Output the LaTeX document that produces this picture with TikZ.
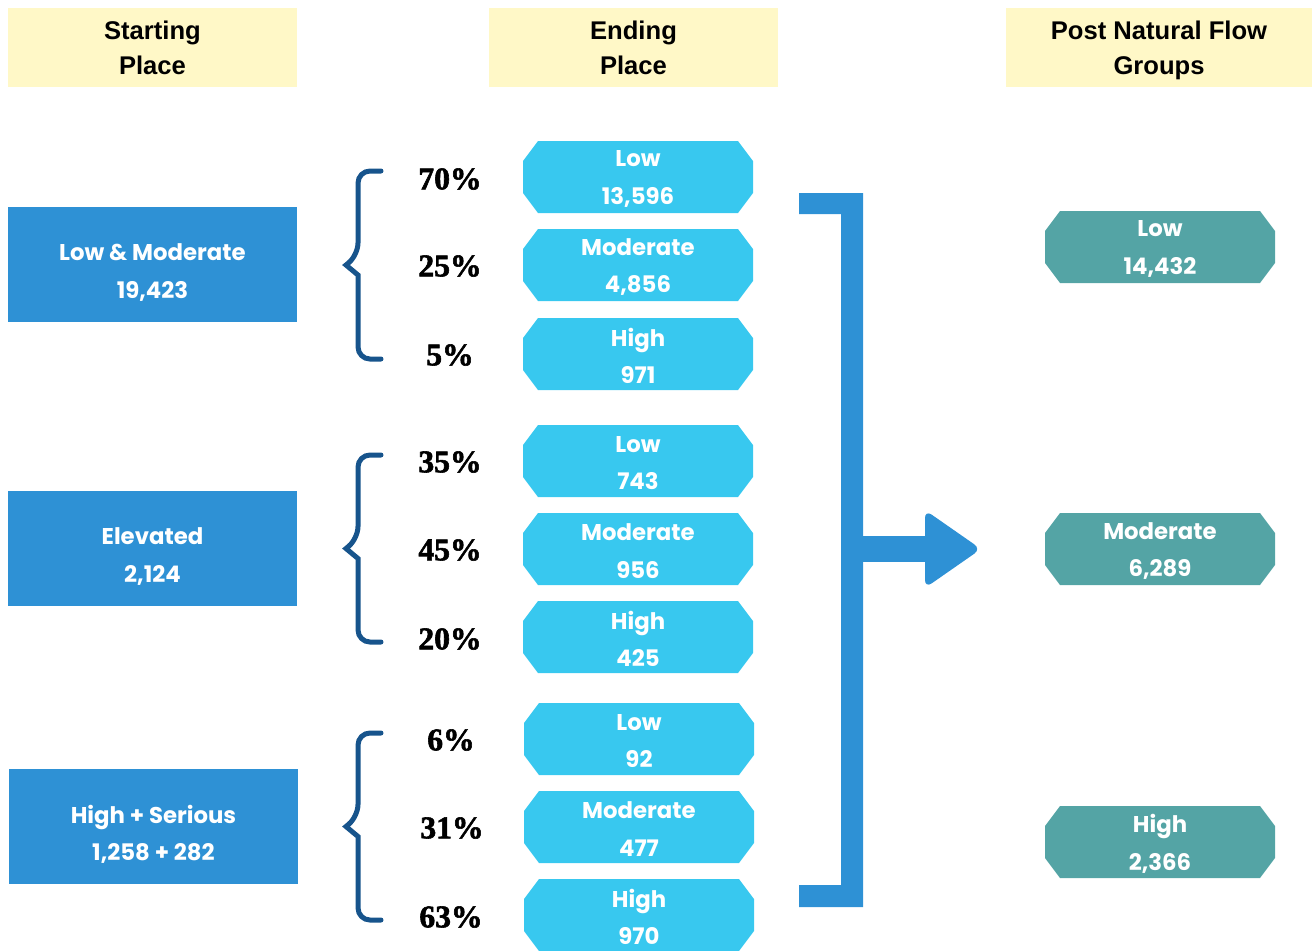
\documentclass[tikz,border=0pt]{standalone}
\usepackage{fontspec}
\setmainfont{Liberation Sans}
\newfontfamily\boxfont{Poppins}
\newfontfamily\pctfont{Liberation Serif}[BoldFeatures={FakeBold=1.8}]
\usetikzlibrary{positioning}
\definecolor{CHead}{RGB}{255,248,199}
\definecolor{CStart}{RGB}{46,145,213}
\definecolor{CEnd}{RGB}{56,200,239}
\definecolor{CPost}{RGB}{84,164,165}
\definecolor{CBrace}{RGB}{23,84,140}
\tikzset{
headbox/.style={fill=CHead, minimum width=#1, minimum height=39.5pt, inner sep=0pt, align=center,
  text depth=0pt, font=\bfseries\fontsize{12.8}{17.5}\selectfont},
headbox/.default=144.5pt,
startbox/.style={fill=CStart, minimum width=144.5pt, minimum height=57.5pt, inner sep=0pt},
boxtext/.style={text=white, align=center, inner sep=0pt, font=\boxfont\bfseries\fontsize{11.4}{18.7}\selectfont},
pct/.style={inner sep=0pt, font=\pctfont\bfseries\fontsize{15.8}{16}\selectfont},
brace/.style={CBrace, line width=2.5pt, line cap=round},
}

\begin{document}
\begin{tikzpicture}[x=0.5pt, y=-0.5pt]
\begin{scope}
\useasboundingbox (0,0) rectangle (1312,950);

%% Definitions
\newcommand\octbox[2]
{
% centre x: #1
% centre y: #2
(#1-115,#2-16) -- (#1-100,#2-36) -- (#1+100,#2-36) -- (#1+115,#2-16)
-- (#1+115,#2+16) -- (#1+100,#2+36) -- (#1-100,#2+36) -- (#1-115,#2+16) -- cycle
}
%%
\newcommand\drawENDbox[5]
{
% name: #1
% centre x: #2
% centre y: #3
% top line: #4
% bottom line: #5
\fill[CEnd] \octbox{#2}{#3};
\node[boxtext] (#1) at (#2,#3+2) {#4\\#5};
}
%%
\newcommand\drawPOSTbox[5]
{
\fill[CPost] \octbox{#2}{#3};
\node[boxtext] (#1) at (#2,#3+2) {#4\\#5};
}
%%
\newcommand\drawbrace[2]
{
% top y: #1
% bottom y: #2
\draw[brace] (381,#1) [rounded corners=6pt] -- (358,#1) -- (358,{(#1+#2)/2-10}) [sharp corners]
-- (346,{(#1+#2)/2}) -- (358,{(#1+#2)/2+10}) [rounded corners=6pt] -- (358,#2) -- (381,#2);
}

% --------------------------------------------------------

%% headers
\node[headbox] (hstart) at (152.5,47.5) {Starting\\Place};
\node[headbox] (hend) at (633.5,47.5) {Ending\\Place};
\node[headbox=153pt] (hpost) at (1159,47.5) {Post Natural Flow\\Groups};

% --------------------------------------------------------

%% starting place
\node[startbox, label={[boxtext, yshift=-4pt]center:{Low \& Moderate\\19,423}}] (slowmod) at (152.5,264.5) {};
\node[startbox, label={[boxtext, yshift=-4pt]center:{Elevated\\2,124}}] (selev) at (152.5,548.5) {};
\node[startbox, label={[boxtext, yshift=-4pt]center:{High + Serious\\1,258 + 282}}] (shigh) at (153.5,826.5) {};

% --------------------------------------------------------

%% low & moderate
\drawbrace{171}{359}
\node[pct] (p1a) at (450,179) {70\%};
\node[pct] (p1b) at (450,266) {25\%};
\node[pct] (p1c) at (450,355) {5\%};
\drawENDbox{e1a}{638}{177}{Low}{13,596}
\drawENDbox{e1b}{638}{265}{Moderate}{4,856}
\drawENDbox{e1c}{638}{354}{High}{971}

%% elevated
\drawbrace{455}{642}
\node[pct] (p2a) at (450,462) {35\%};
\node[pct] (p2b) at (450,550) {45\%};
\node[pct] (p2c) at (450,639) {20\%};
\drawENDbox{e2a}{638}{461}{Low}{743}
\drawENDbox{e2b}{638}{549}{Moderate}{956}
\drawENDbox{e2c}{638}{637}{High}{425}

%% high + serious
\drawbrace{733}{920}
\node[pct] (p3a) at (451,740) {6\%};
\node[pct] (p3b) at (452,828) {31\%};
\node[pct] (p3c) at (451,917) {63\%};
\drawENDbox{e3a}{639}{739}{Low}{92}
\drawENDbox{e3b}{639}{827}{Moderate}{477}
\drawENDbox{e3c}{639}{915}{High}{970}

% --------------------------------------------------------

%% bracket and arrow
\fill[CStart] (799,193) -- (863,193) -- (863,907) -- (799,907) -- (799,885) -- (841,885)
-- (841,214) -- (799,214) -- cycle;
\fill[CStart] (860,536) rectangle (932,562);
\fill[CStart, rounded corners=4pt] (925,510) -- (981,549) -- (925,588) -- cycle;

%% post natural flow groups
\drawPOSTbox{plow}{1160}{247}{Low}{14,432}
\drawPOSTbox{pmod}{1160}{549}{Moderate}{6,289}
\drawPOSTbox{phigh}{1160}{842}{High}{2,366}

\end{scope}
\end{tikzpicture}
\end{document}
